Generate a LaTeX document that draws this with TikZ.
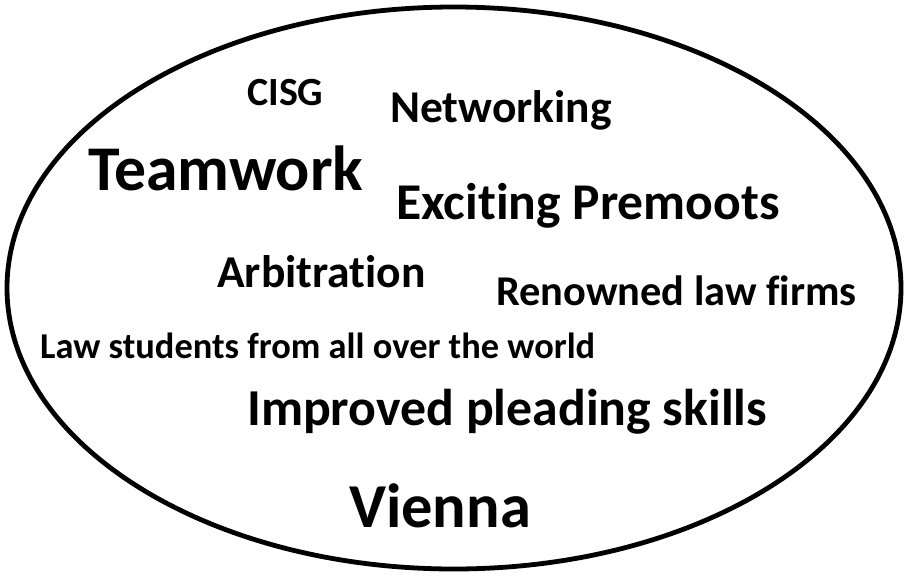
\documentclass[tikz,border=0pt]{standalone}
\usepackage{fontspec}
\setmainfont{Carlito}[Ligatures={NoCommon}]
\usetikzlibrary{shapes.geometric}
\tikzset{
  word/.style={inner sep=0pt, anchor=base west, font=\bfseries},
  frame/.style={draw=black, line width=4.8pt}
}
\newcommand{\fs}[1]{\fontsize{#1}{#1}\selectfont}
\begin{document}
\begin{tikzpicture}[x=1pt,y=-1pt]
\useasboundingbox (0,0) rectangle (906,579);
\node[frame, ellipse, minimum width=894pt, minimum height=562pt, inner sep=0pt] (oval) at (454,288) {};
\node[word] (cisg) at (247,105) {\fs{40}CISG};
\node[word] (net) at (390,122) {\fs{45.5}Networking};
\node[word] (team) at (88,190) {\fs{63.7}Teamwork};
\node[word] (prem) at (396,219) {\fs{51.6}Exciting Premoots};
\node[word] (arb) at (217,287) {\fs{45.6}Arbitration};
\node[word] (firms) at (496,305) {\fs{42.4}Renowned law firms};
\node[word] (stud) at (40,358) {\fs{36.4}Law students from all over the world};
\node[word] (plead) at (247,425) {\fs{51.8}Improved pleading skills};
\node[word] (vien) at (349,527) {\fs{62.5}Vienna};
\end{tikzpicture}
\end{document}
